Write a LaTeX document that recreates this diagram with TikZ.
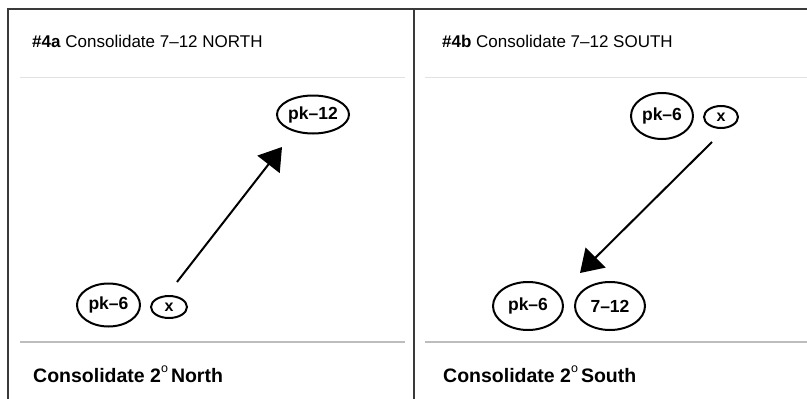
\documentclass[tikz,border=0pt]{standalone}
\usepackage{fontspec}
\setmainfont{Liberation Sans}
\usetikzlibrary{shapes.geometric,arrows.meta}
\definecolor{frame}{HTML}{3A3A3A}
\definecolor{toprule}{HTML}{E2E2E2}
\definecolor{botrule}{HTML}{BDBDBD}
\newcommand{\degsign}{\raisebox{0.5em}{\fontsize{12.5}{12}\selectfont\mdseries o}\hspace{3pt}}
\tikzset{
  oval/.style={ellipse, draw=black, line width=2pt, inner sep=0pt, font=\fontsize{17.5}{19}\selectfont\bfseries},
  xoval/.style={oval, font=\fontsize{16}{17}\selectfont\bfseries},
  head/.style={anchor=base west, inner sep=0pt, font=\fontsize{17}{19}\selectfont},
  foot/.style={anchor=base west, inner sep=0pt, font=\fontsize{19.5}{22}\selectfont\bfseries},
  arr/.style={line width=2pt, -{Triangle[length=22pt,width=28pt]}},
  framel/.style={draw=frame, line width=2pt},
  hrule/.style={draw=toprule, line width=1pt},
  frule/.style={draw=botrule, line width=2pt}
}
\begin{document}
\begin{tikzpicture}[x=1pt,y=-1pt]
\useasboundingbox (0,0) rectangle (807,399);
% frame
\draw[framel] (8,399) -- (8,9) -- (807,9);
\draw[framel] (414,9) -- (414,399);
% rules
\draw[hrule] (20,77) -- (405,77);
\draw[hrule] (425,77) -- (807,77);
\draw[frule] (20,342) -- (405,342);
\draw[frule] (425,342) -- (807,342);
% headers
\node[head] (ha) at (32,47) {\textbf{\#4a} Consolidate 7–12 NORTH};
\node[head] (hb) at (442,47) {\textbf{\#4b} Consolidate 7–12 SOUTH};
% footers
\node[foot] (fa) at (33,382) {Consolidate 2\degsign North};
\node[foot] (fb) at (443,382) {Consolidate 2\degsign South};
% left panel
\node[oval, minimum width=72pt, minimum height=38pt] (pkb) at (313,114.5) {pk–12};
\node[oval, minimum width=63pt, minimum height=43pt] (pka) at (108.5,305) {pk–6};
\node[xoval, minimum width=36pt, minimum height=22pt] (xa) at (169,307) {x};
\coordinate (lt) at (177,282);
\coordinate (lh) at (282,147);
\draw[arr] (lt) -- (lh);
% right panel
\node[oval, minimum width=62pt, minimum height=46pt] (pkc) at (662,116) {pk–6};
\node[xoval, minimum width=34pt, minimum height=22pt] (xb) at (721,117) {x};
\node[oval, minimum width=70pt, minimum height=48pt] (pkd) at (528,306) {pk–6};
\node[oval, minimum width=70pt, minimum height=48pt] (sv) at (610,306) {7–12};
\coordinate (rt) at (712,142);
\coordinate (rh) at (580,273);
\draw[arr] (rt) -- (rh);
\end{tikzpicture}
\end{document}
